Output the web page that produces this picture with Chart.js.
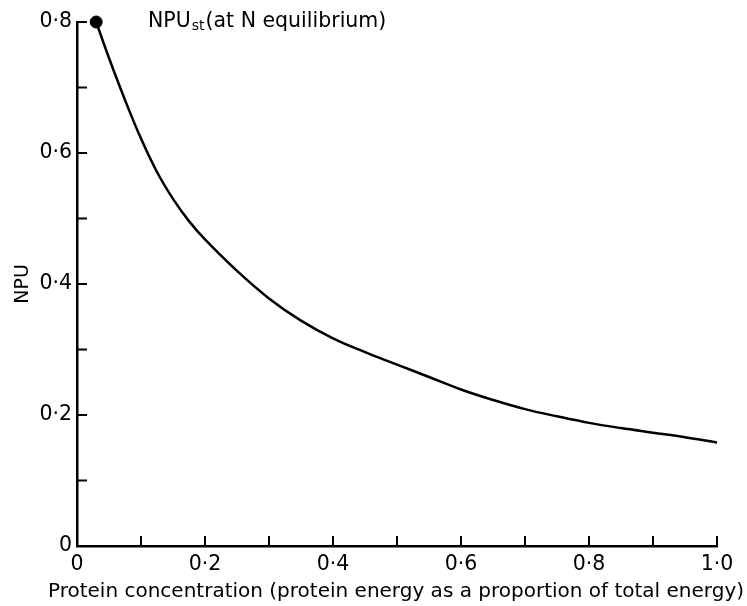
<!DOCTYPE html>
<html>
<head>
<meta charset="utf-8">
<script src="https://cdn.jsdelivr.net/npm/chart.js@4.4.1/dist/chart.umd.min.js"></script>
<style>
    html, body { margin: 0; padding: 0; background: #fff; }
    #wrap { width: 747px; height: 606px; position: relative; }
</style>
</head>
<body>
<div id="wrap"><canvas id="npuChart"></canvas></div>
<script>
// Protein concentration (x) and NPU (y)
const proteinConc = [0.03, 0.05, 0.075, 0.1, 0.125, 0.15, 0.175, 0.2, 0.25, 0.3, 0.35, 0.4, 0.45, 0.5, 0.55, 0.6, 0.65, 0.7, 0.75, 0.8, 0.85, 0.9, 0.95, 1.0];
const npuValues = [0.80, 0.745, 0.681, 0.622, 0.571, 0.530, 0.496, 0.468, 0.420, 0.378, 0.344, 0.317, 0.296, 0.277, 0.258, 0.239, 0.223, 0.209, 0.198, 0.188, 0.180, 0.173, 0.166, 0.158];

// NPUst point (at N equilibrium)
const npuStX = [0.03];
const npuStY = [0.80];

const xTickLabels = { 0: '0', 2: '0·2', 4: '0·4', 6: '0·6', 8: '0·8', 10: '1·0' };
const yTickLabels = { 0: '0', 2: '0·2', 4: '0·4', 6: '0·6', 8: '0·8' };
const xTitle = 'Protein concentration (protein energy as a proportion of total energy)';

const FONT = '"DejaVu Sans", sans-serif';

// inward ticks, annotation and the wide x title
const inwardTicks = {
    id: 'inwardTicks',
    afterDraw(chart) {
        const ctx = chart.ctx;
        const xs = chart.scales.x, ys = chart.scales.y;
        ctx.save();
        ctx.strokeStyle = '#000';
        ctx.lineWidth = 2;
        for (let i = 1; i <= 10; i++) {
            const px = xs.getPixelForValue(i / 10);
            ctx.beginPath();
            ctx.moveTo(px, ys.bottom);
            ctx.lineTo(px, ys.bottom - 10);
            ctx.stroke();
        }
        for (let i = 1; i <= 8; i++) {
            const py = ys.getPixelForValue(i / 10);
            ctx.beginPath();
            ctx.moveTo(xs.left, py);
            ctx.lineTo(xs.left + 10, py);
            ctx.stroke();
        }

        // label next to the NPUst point
        const lx = xs.getPixelForValue(0.111);
        const ly = ys.getPixelForValue(0.8);
        ctx.fillStyle = '#000';
        ctx.textBaseline = 'middle';
        ctx.font = '20.5px ' + FONT;
        ctx.fillText('NPU', lx, ly);
        let w = ctx.measureText('NPU').width;
        ctx.font = '14px ' + FONT;
        ctx.fillText('st', lx + w + 1, ly + 4);
        w += ctx.measureText('st').width + 2;
        ctx.font = '20.5px ' + FONT;
        ctx.fillText('(at N equilibrium)', lx + w, ly);

        // x axis title (wider than the plot, so drawn here)
        ctx.textAlign = 'center';
        ctx.font = '20px ' + FONT;
        ctx.fillText(xTitle, (xs.left + xs.right) / 2 - 1, ys.bottom + 46);
        ctx.restore();
    }
};

const axisGrid = { display: true, drawOnChartArea: false, drawTicks: false };

const ctx = document.getElementById('npuChart').getContext('2d');
new Chart(ctx, {
    type: 'scatter',
    data: {
        datasets: [
            {
                data: proteinConc.map((x, i) => ({ x: x, y: npuValues[i] })),
                showLine: true,
                borderColor: '#000',
                borderWidth: 2.5,
                pointRadius: 0,
                tension: 0.4,
                fill: false
            },
            {
                data: npuStX.map((x, i) => ({ x: x, y: npuStY[i] })),
                backgroundColor: '#000',
                borderColor: '#000',
                pointRadius: 6,
                clip: false
            }
        ]
    },
    plugins: [inwardTicks],
    options: {
        responsive: true,
        maintainAspectRatio: false,
        animation: false,
        layout: { padding: { top: 22, right: 30, left: 0, bottom: 0 } },
        plugins: { legend: { display: false }, tooltip: { enabled: false } },
        scales: {
            x: {
                type: 'linear',
                min: 0,
                max: 1,
                afterFit: s => { s.height = 60; },
                border: { display: true, color: '#000', width: 2.5 },
                grid: axisGrid,
                ticks: {
                    stepSize: 0.1,
                    autoSkip: false,
                    maxRotation: 0,
                    color: '#000',
                    padding: 6,
                    font: { size: 20.5, family: FONT },
                    callback: (v) => xTickLabels[Math.round(v * 10)] ?? ''
                },
                title: { display: false }
            },
            y: {
                type: 'linear',
                min: 0,
                max: 0.8,
                afterFit: s => { s.width = 77; },
                border: { display: true, color: '#000', width: 2.5 },
                grid: axisGrid,
                ticks: {
                    stepSize: 0.1,
                    autoSkip: false,
                    color: '#000',
                    padding: 5,
                    font: { size: 20.5, family: FONT },
                    callback: (v) => yTickLabels[Math.round(v * 10)] ?? ''
                },
                title: {
                    display: true,
                    text: 'NPU',
                    color: '#000',
                    font: { size: 19, family: FONT },
                    padding: { top: 12, bottom: 0 }
                }
            }
        }
    }
});
</script>
</body>
</html>
